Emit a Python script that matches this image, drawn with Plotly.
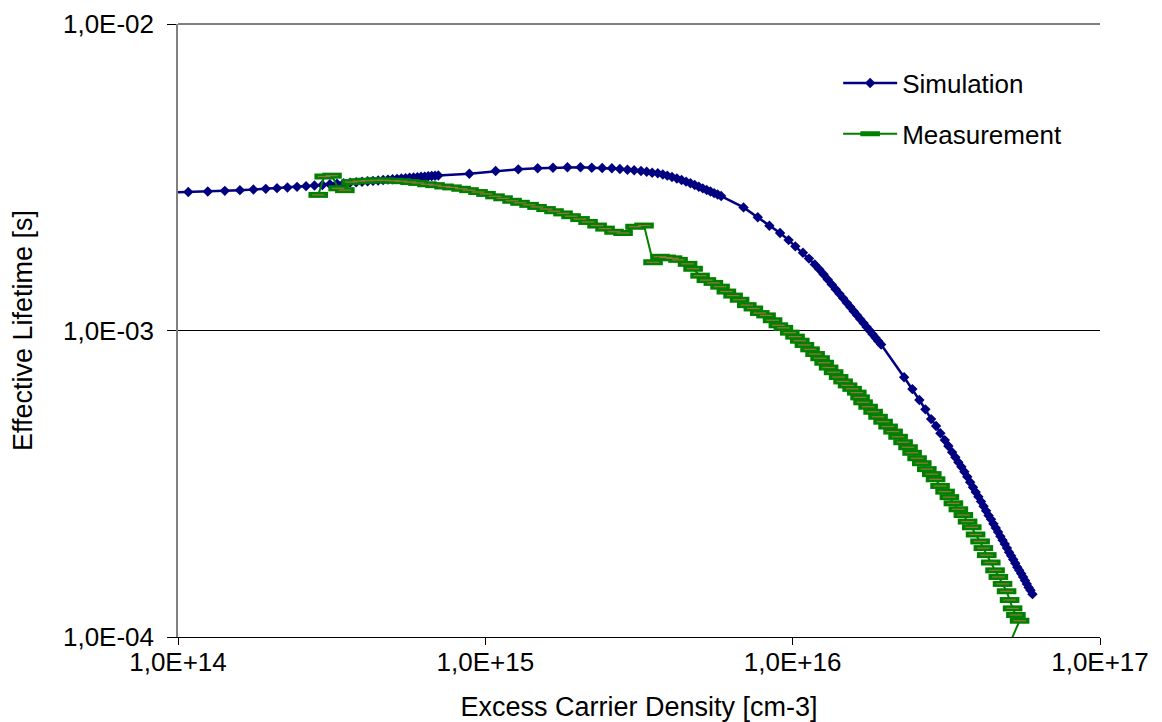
import plotly.graph_objects as go

# Simulated effective lifetime vs. excess carrier density
sim_density = [
    0.91e14, 1.08e14, 1.25e14, 1.42e14, 1.59e14, 1.76e14, 1.93e14, 2.10e14, 2.27e14, 2.44e14,
    2.61e14, 2.78e14, 2.95e14, 3.12e14, 3.29e14, 3.46e14, 3.63e14, 3.80e14, 3.97e14, 4.14e14,
    4.31e14, 4.48e14, 4.65e14, 4.82e14, 4.99e14, 5.16e14, 5.33e14, 5.50e14, 5.67e14, 5.84e14,
    6.01e14, 6.18e14, 6.35e14, 6.52e14, 6.69e14, 6.86e14, 7.03e14,
    0.887e15, 1.08e15, 1.28e15, 1.48e15, 1.66e15, 1.85e15, 2.04e15, 2.22e15, 2.40e15, 2.58e15,
    2.74e15, 2.90e15, 3.05e15, 3.21e15, 3.35e15, 3.49e15, 3.64e15, 3.78e15, 3.91e15, 4.05e15,
    4.20e15, 4.35e15, 4.50e15, 4.65e15, 4.80e15, 4.95e15, 5.10e15, 5.25e15, 5.40e15, 5.55e15,
    5.70e15, 5.85e15,
    0.692e16, 0.770e16, 0.840e16, 0.910e16, 0.970e16, 1.02e16, 1.08e16, 1.13e16, 1.18e16, 1.22e16,
    1.26e16, 1.30e16, 1.34e16, 1.38e16, 1.42e16, 1.46e16, 1.50e16, 1.54e16, 1.58e16, 1.62e16,
    1.66e16, 1.70e16, 1.74e16, 1.78e16, 1.82e16, 1.86e16, 1.90e16, 1.94e16,
    2.305e16, 2.452e16, 2.584e16, 2.703e16, 2.821e16, 2.928e16, 3.024e16, 3.126e16, 3.211e16, 3.302e16,
    3.383e16, 3.46e16, 3.54e16, 3.62e16, 3.70e16, 3.78e16, 3.86e16, 3.94e16, 4.02e16, 4.10e16,
    4.18e16, 4.26e16, 4.34e16, 4.42e16, 4.50e16, 4.58e16, 4.66e16, 4.74e16, 4.82e16, 4.90e16,
    4.98e16, 5.06e16, 5.14e16, 5.22e16, 5.30e16, 5.38e16, 5.46e16, 5.54e16, 5.62e16, 5.70e16,
    5.78e16, 5.86e16, 5.94e16, 6.03e16,
]
sim_lifetime = [
    2.818e-3, 2.831e-3, 2.840e-3, 2.855e-3, 2.870e-3, 2.883e-3, 2.898e-3, 2.914e-3, 2.929e-3, 2.942e-3,
    2.958e-3, 2.972e-3, 2.984e-3, 2.999e-3, 3.013e-3, 3.024e-3, 3.036e-3, 3.047e-3, 3.056e-3, 3.068e-3,
    3.077e-3, 3.086e-3, 3.097e-3, 3.107e-3, 3.116e-3, 3.125e-3, 3.132e-3, 3.142e-3, 3.149e-3, 3.158e-3,
    3.165e-3, 3.173e-3, 3.178e-3, 3.185e-3, 3.192e-3, 3.197e-3, 3.204e-3,
    3.248e-3, 3.314e-3, 3.356e-3, 3.382e-3, 3.398e-3, 3.408e-3, 3.408e-3, 3.398e-3, 3.390e-3, 3.382e-3,
    3.364e-3, 3.347e-3, 3.332e-3, 3.314e-3, 3.297e-3, 3.272e-3, 3.258e-3, 3.229e-3, 3.200e-3, 3.168e-3,
    3.132e-3, 3.097e-3, 3.060e-3, 3.022e-3, 2.984e-3, 2.943e-3, 2.908e-3, 2.873e-3, 2.840e-3, 2.807e-3,
    2.777e-3, 2.746e-3,
    2.521e-3, 2.341e-3, 2.197e-3, 2.080e-3, 1.972e-3, 1.882e-3, 1.793e-3, 1.716e-3, 1.643e-3, 1.585e-3,
    1.526e-3, 1.468e-3, 1.414e-3, 1.364e-3, 1.317e-3, 1.273e-3, 1.231e-3, 1.193e-3, 1.155e-3, 1.121e-3,
    1.089e-3, 1.057e-3, 1.027e-3, 1.000e-3, 0.973e-3, 0.947e-3, 0.923e-3, 0.900e-3,
    7.04e-4, 6.44e-4, 5.93e-4, 5.53e-4, 5.14e-4, 4.88e-4, 4.62e-4, 4.39e-4, 4.20e-4, 4.01e-4,
    3.86e-4, 3.72e-4, 3.59e-4, 3.46e-4, 3.33e-4, 3.20e-4, 3.08e-4, 2.97e-4, 2.87e-4, 2.77e-4,
    2.67e-4, 2.58e-4, 2.49e-4, 2.42e-4, 2.34e-4, 2.27e-4, 2.20e-4, 2.13e-4, 2.07e-4, 2.01e-4,
    1.95e-4, 1.89e-4, 1.84e-4, 1.79e-4, 1.74e-4, 1.69e-4, 1.65e-4, 1.61e-4, 1.57e-4, 1.53e-4,
    1.49e-4, 1.45e-4, 1.42e-4, 1.38e-4,
]

# Measured effective lifetime vs. excess carrier density
meas_density = [
    2.86e14, 2.99e14, 3.17e14, 3.32e14, 3.49e14, 3.66e14, 3.88e14, 4.12e14, 4.41e14, 4.68e14,
    5.01e14, 5.32e14, 5.69e14, 6.04e14, 6.46e14, 6.86e14, 7.34e14, 7.79e14, 8.34e14, 8.85e14,
    9.47e14, 1.005e15, 1.075e15, 1.142e15, 1.222e15, 1.297e15, 1.388e15, 1.473e15, 1.576e15, 1.673e15,
    1.790e15, 1.901e15, 2.033e15, 2.159e15, 2.310e15, 2.452e15, 2.623e15, 2.806e15, 3.070e15, 3.284e15,
    3.513e15, 3.702e15, 3.873e15, 4.066e15, 4.237e15, 4.550e15, 4.742e15, 4.997e15, 5.239e15, 5.521e15,
    5.805e15, 6.086e15, 6.400e15, 6.719e15, 7.090e15, 7.449e15, 7.816e15, 8.193e15, 8.603e15, 8.985e15,
    9.327e15, 9.786e15, 1.018e16, 1.055e16, 1.092e16, 1.139e16, 1.183e16, 1.228e16, 1.266e16, 1.309e16,
    1.359e16, 1.411e16, 1.459e16, 1.509e16, 1.561e16, 1.617e16, 1.657e16, 1.695e16, 1.760e16, 1.827e16,
    1.896e16, 1.969e16, 2.044e16, 2.122e16, 2.203e16, 2.287e16, 2.374e16, 2.447e16, 2.540e16, 2.631e16,
    2.732e16, 2.836e16, 2.917e16, 3.017e16, 3.133e16, 3.236e16, 3.334e16, 3.461e16, 3.593e16, 3.708e16,
    3.826e16, 3.937e16, 4.072e16, 4.174e16, 4.281e16, 4.412e16, 4.556e16, 4.670e16, 4.819e16, 4.966e16,
    5.079e16, 5.195e16, 5.325e16, 5.474e16, 4.84e16,
]
meas_lifetime = [
    2.77e-3, 3.18e-3, 3.20e-3, 2.91e-3, 2.87e-3, 3.05e-3, 3.07e-3, 3.08e-3, 3.09e-3, 3.09e-3,
    3.08e-3, 3.07e-3, 3.05e-3, 3.03e-3, 3.00e-3, 2.98e-3, 2.95e-3, 2.93e-3, 2.90e-3, 2.87e-3,
    2.83e-3, 2.79e-3, 2.74e-3, 2.70e-3, 2.65e-3, 2.61e-3, 2.57e-3, 2.53e-3, 2.49e-3, 2.45e-3,
    2.41e-3, 2.36e-3, 2.31e-3, 2.26e-3, 2.20e-3, 2.15e-3, 2.10e-3, 2.08e-3, 2.18e-3, 2.20e-3,
    1.67e-3, 1.74e-3, 1.73e-3, 1.72e-3, 1.70e-3, 1.65e-3, 1.59e-3, 1.51e-3, 1.46e-3, 1.43e-3,
    1.39e-3, 1.34e-3, 1.30e-3, 1.26e-3, 1.21e-3, 1.18e-3, 1.14e-3, 1.12e-3, 1.08e-3, 1.04e-3,
    1.02e-3, 9.84e-4, 9.55e-4, 9.26e-4, 8.97e-4, 8.68e-4, 8.38e-4, 8.12e-4, 7.85e-4, 7.57e-4,
    7.31e-4, 7.05e-4, 6.82e-4, 6.62e-4, 6.45e-4, 6.27e-4, 6.05e-4, 5.83e-4, 5.64e-4, 5.43e-4,
    5.23e-4, 5.04e-4, 4.86e-4, 4.68e-4, 4.50e-4, 4.32e-4, 4.16e-4, 3.99e-4, 3.83e-4, 3.69e-4,
    3.53e-4, 3.40e-4, 3.27e-4, 3.11e-4, 2.98e-4, 2.86e-4, 2.73e-4, 2.61e-4, 2.50e-4, 2.38e-4,
    2.28e-4, 2.16e-4, 2.05e-4, 1.95e-4, 1.85e-4, 1.75e-4, 1.65e-4, 1.57e-4, 1.49e-4, 1.41e-4,
    1.32e-4, 1.24e-4, 1.18e-4, 1.13e-4, 8.5e-5,
]

x_tick_vals = [1e14, 1e15, 1e16, 1e17]
x_tick_text = ["1,0E+14", "1,0E+15", "1,0E+16", "1,0E+17"]
y_tick_vals = [1e-4, 1e-3, 1e-2]
y_tick_text = ["1,0E-04", "1,0E-03", "1,0E-02"]

NAVY = "#000080"
GREEN = "#008000"
DASH_CORE = "#9a7440"
FONT = "Liberation Sans, Arial, sans-serif"
TITLE_FONT = "Liberation Sans Narrow, Arial Narrow, Liberation Sans, sans-serif"

fig = go.Figure()

fig.add_trace(go.Scatter(
    x=sim_density, y=sim_lifetime, name="Simulation", mode="lines+markers",
    legendgroup="sim",
    line=dict(color=NAVY, width=2.5),
    marker=dict(symbol="diamond", size=8, color=NAVY, line=dict(width=0)),
))

fig.add_trace(go.Scatter(
    x=meas_density, y=meas_lifetime, name="Measurement", mode="lines+markers",
    legendgroup="meas",
    line=dict(color=GREEN, width=2),
    marker=dict(symbol="line-ew", size=14, color=GREEN, line=dict(color=GREEN, width=6)),
))

# thin brownish core line inside each dash marker
fig.add_trace(go.Scatter(
    x=meas_density, y=meas_lifetime, mode="markers", showlegend=False, hoverinfo="skip",
    legendgroup="meas",
    marker=dict(symbol="line-ew", size=9, line=dict(color=DASH_CORE, width=1.2)),
))

fig.update_layout(
    width=1162, height=722, autosize=False,
    margin=dict(l=178, r=62, t=24, b=85),
    paper_bgcolor="white", plot_bgcolor="white",
    font=dict(family=FONT, size=26, color="black"),
    showlegend=True,
    legend=dict(
        x=0.716, y=0.942, xanchor="left", yanchor="top",
        bgcolor="rgba(0,0,0,0)", itemwidth=54, tracegroupgap=14,
        traceorder="grouped", font=dict(family=FONT, size=26, color="black"),
    ),
    xaxis=dict(
        type="log", range=[14, 17], automargin=False,
        tickvals=x_tick_vals, ticktext=x_tick_text,
        ticks="outside", ticklen=7, tickwidth=1, tickcolor="black",
        ticklabelstandoff=-5,
        showline=True, linecolor="black", linewidth=1,
        showgrid=False, zeroline=False,
        title=dict(text="Excess Carrier Density [cm-3]", standoff=20,
                   font=dict(family=TITLE_FONT, size=27)),
    ),
    yaxis=dict(
        type="log", range=[-4, -2], automargin=False,
        tickvals=y_tick_vals, ticktext=y_tick_text,
        ticks="outside", ticklen=9, tickwidth=1, tickcolor="black",
        ticklabelstandoff=8,
        showline=True, linecolor="#808080", linewidth=1.5,
        showgrid=True, gridcolor="black", gridwidth=1, zeroline=False,
        title=dict(text="Effective Lifetime [s]", standoff=23,
                   font=dict(family=TITLE_FONT, size=27)),
    ),
    shapes=[dict(type="line", xref="paper", yref="paper", x0=0, x1=1, y0=1, y1=1,
                 line=dict(color="black", width=1))],
)

fig.write_html("out.html")
